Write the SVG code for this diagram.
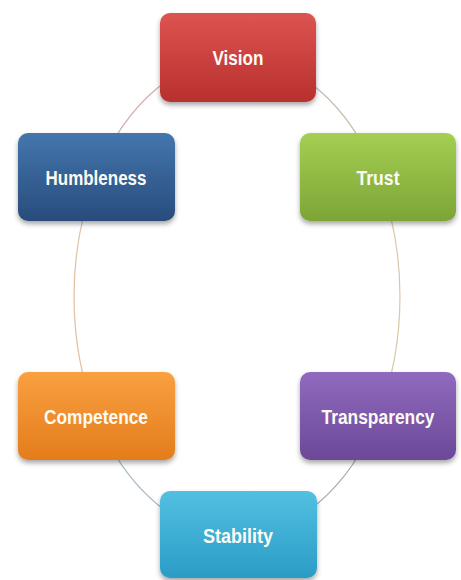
<svg xmlns="http://www.w3.org/2000/svg" width="461" height="580" viewBox="0 0 461 580">
<defs>
<linearGradient id="gRed" x1="0" y1="0" x2="0" y2="1"><stop offset="0" stop-color="#dc5450"/><stop offset="1" stop-color="#b8302e"/></linearGradient>
<linearGradient id="gBlue" x1="0" y1="0" x2="0" y2="1"><stop offset="0" stop-color="#4476ad"/><stop offset="1" stop-color="#284c7c"/></linearGradient>
<linearGradient id="gGreen" x1="0" y1="0" x2="0" y2="1"><stop offset="0" stop-color="#a4cf52"/><stop offset="1" stop-color="#7ca536"/></linearGradient>
<linearGradient id="gOrange" x1="0" y1="0" x2="0" y2="1"><stop offset="0" stop-color="#f9a040"/><stop offset="1" stop-color="#e47c1c"/></linearGradient>
<linearGradient id="gPurple" x1="0" y1="0" x2="0" y2="1"><stop offset="0" stop-color="#906abe"/><stop offset="1" stop-color="#6c4898"/></linearGradient>
<linearGradient id="gCyan" x1="0" y1="0" x2="0" y2="1"><stop offset="0" stop-color="#52c0e2"/><stop offset="1" stop-color="#2a9cc6"/></linearGradient>
<filter id="sh" x="-10%" y="-10%" width="120%" height="130%"><feDropShadow dx="0" dy="3" stdDeviation="2.5" flood-color="#000" flood-opacity="0.35"/></filter>
</defs>
<style>
.box{filter:url(#sh)}
.lbl{font-family:"Liberation Sans",Arial,sans-serif;font-weight:bold;font-size:21px;fill:#fbfbf4;text-anchor:middle;dominant-baseline:central}
.c{fill:none;stroke-width:1.2}
</style>
<g id="connectors">
<path class="c" stroke="#cdb0a8" d="M238,57 A164,239 0 0 0 96,177"/>
<path class="c" stroke="#c9b8a8" d="M238,57 A164,239 0 0 1 378,177"/>
<path class="c" stroke="#d8c8a8" d="M378,177 A164,239 0 0 1 378,416"/>
<path class="c" stroke="#e0c0a0" d="M96,177 A164,239 0 0 0 96,416"/>
<path class="c" stroke="#a8b0b8" d="M378,416 A164,239 0 0 1 238,535"/>
<path class="c" stroke="#a8bcc4" d="M96,416 A164,239 0 0 0 238,535"/>
</g>
<g id="vision"><rect class="box" x="160" y="13" width="156" height="89" rx="10" fill="url(#gRed)"/><text class="lbl" x="238" y="57" textLength="51" lengthAdjust="spacingAndGlyphs">Vision</text></g>
<g id="humbleness"><rect class="box" x="18" y="133" width="157" height="88" rx="10" fill="url(#gBlue)"/><text class="lbl" x="96" y="177" textLength="101" lengthAdjust="spacingAndGlyphs">Humbleness</text></g>
<g id="trust"><rect class="box" x="300" y="133" width="156" height="88" rx="10" fill="url(#gGreen)"/><text class="lbl" x="378" y="177" textLength="43" lengthAdjust="spacingAndGlyphs">Trust</text></g>
<g id="competence"><rect class="box" x="18" y="372" width="157" height="88" rx="10" fill="url(#gOrange)"/><text class="lbl" x="96" y="416" textLength="104" lengthAdjust="spacingAndGlyphs">Competence</text></g>
<g id="transparency"><rect class="box" x="300" y="372" width="156" height="88" rx="10" fill="url(#gPurple)"/><text class="lbl" x="378" y="416" textLength="113" lengthAdjust="spacingAndGlyphs">Transparency</text></g>
<g id="stability"><rect class="box" x="160" y="491" width="157" height="87" rx="10" fill="url(#gCyan)"/><text class="lbl" x="238" y="535" textLength="70" lengthAdjust="spacingAndGlyphs">Stability</text></g>
</svg>
